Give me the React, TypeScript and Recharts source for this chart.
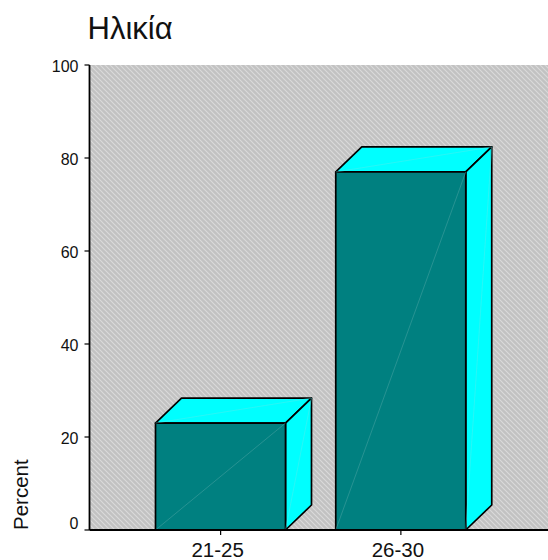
import React from "react";
import { BarChart, Bar, XAxis, YAxis, CartesianGrid } from "recharts";

const categories = ["21-25", "26-30"];
const percents = [23, 77];
const yTicks = [0, 20, 40, 60, 80, 100];
const chartTitle = "Ηλικία";
const yLabel = "Percent";
const rows = categories.map((age, i) => ({ age, percent: percents[i] }));

const FONT = "Arial, 'Liberation Sans', sans-serif";
const DX = 26;
const DY = 25;

function Box(props: any) {
  const { x, y, width: w, height: h } = props;
  const stroke = { stroke: "#000", strokeWidth: 1.7, strokeLinejoin: "round" as const };
  return (
    <g>
      <path d={`M${x},${y} l${DX},${-DY} h${w} l${-DX},${DY} Z`} fill="#00ffff" {...stroke} />
      <path d={`M${x + w},${y} l${DX},${-DY} v${h} l${-DX},${DY} Z`} fill="#00ffff" {...stroke} />
      <rect x={x} y={y} width={w} height={h} fill="#008080" {...stroke} />
      <line x1={x} y1={y + h} x2={x + w} y2={y} stroke="#4fa5a5" strokeWidth={0.5} />
      <line x1={x} y1={y} x2={x + w + DX} y2={y - DY} stroke="#66e8e8" strokeWidth={0.4} />
      <line x1={x + w} y1={y + h} x2={x + w + DX} y2={y - DY} stroke="#66e8e8" strokeWidth={0.4} />
    </g>
  );
}

function YTick(props: any) {
  const { x, y, payload } = props;
  const offset = payload.value === 0 ? -7 : 1;
  return (
    <text x={x} y={y + offset} dy="0.355em" textAnchor="end" fontSize={16} fontFamily={FONT} fill="#111">
      {payload.value}
    </text>
  );
}

function XTick(props: any) {
  const { x, y, payload } = props;
  return (
    <text x={x - 3} y={y + 20} textAnchor="middle" fontSize={20.5} fontFamily={FONT} fill="#111">
      {payload.value}
    </text>
  );
}

export default function App() {
  return (
    <div style={{ position: "absolute", left: 0, top: 0, width: 548, height: 560 }}>
      <BarChart
        width={548}
        height={560}
        data={rows}
        margin={{ top: 65, right: 0, bottom: 0, left: 0 }}
        barSize={130}
      >
        <defs>
          <pattern id="hatch" width="5" height="5" patternUnits="userSpaceOnUse">
            <rect width="5" height="5" fill="#c2c2c2" />
            <path d="M-1,-1 L6,6 M-1,4 L1,6 M4,-1 L6,1" stroke="#dadada" strokeWidth={1.1} />
          </pattern>
        </defs>
        <CartesianGrid fill="url(#hatch)" horizontal={false} vertical={false} />
        <XAxis
          dataKey="age"
          padding={{ left: 41, right: 57 }}
          interval={0}
          tickSize={5}
          tickLine={{ stroke: "#000", strokeWidth: 1.2 }}
          axisLine={{ stroke: "#000", strokeWidth: 1.8 }}
          tick={<XTick />}
          height={30}
          tickMargin={2}
        />
        <YAxis
          type="number"
          domain={[0, 100]}
          ticks={yTicks}
          width={89.5}
          tickSize={5}
          tickLine={{ stroke: "#000", strokeWidth: 1.2 }}
          axisLine={{ stroke: "#000", strokeWidth: 1.8 }}
          tick={<YTick />}
          tickMargin={6}
        />
        <Bar dataKey="percent" shape={<Box />} isAnimationActive={false} />
        <text x={87.5} y={38.5} fontSize={31} fontFamily={FONT} fill="#111">{chartTitle}</text>
        <text
          x={28}
          y={530}
          fontSize={20.5}
          fontFamily={FONT}
          fill="#111"
          transform="rotate(-90 28 530)"
        >
          {yLabel}
        </text>
      </BarChart>
    </div>
  );
}
